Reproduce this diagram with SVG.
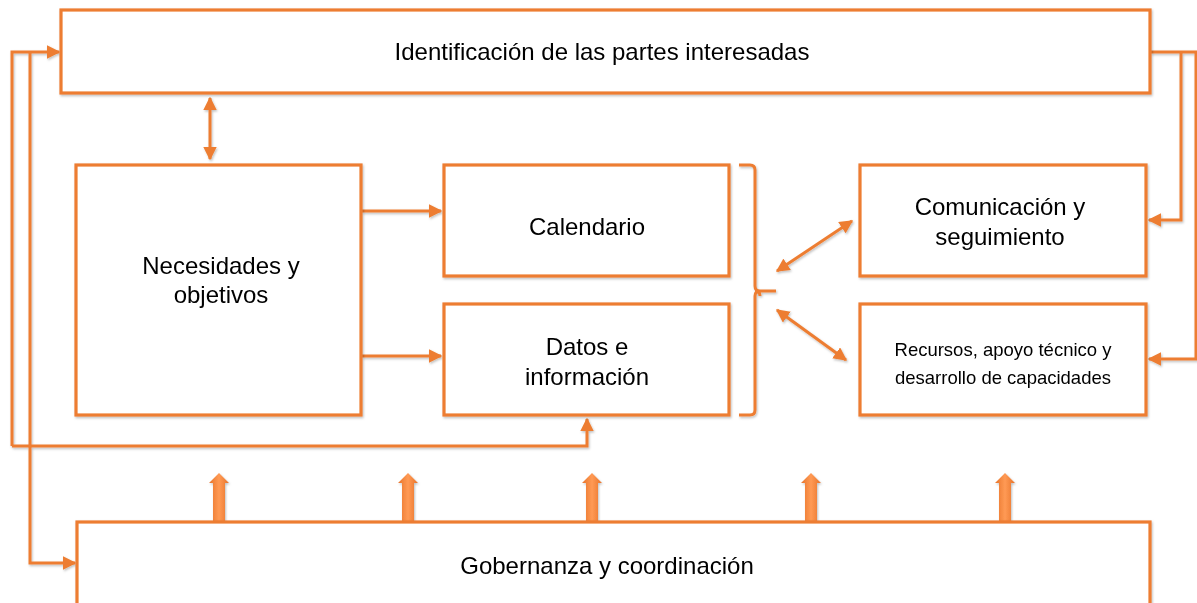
<svg xmlns="http://www.w3.org/2000/svg" width="1197" height="603" viewBox="0 0 1197 603">
<style>
.box{fill:#fff;stroke:#ED7D31;stroke-width:3.2}
.ln{fill:none;stroke:#ED7D31;stroke-width:3}
.t{font-family:"Liberation Sans",Arial,sans-serif;font-size:24px;fill:#000;text-anchor:middle}
.s{font-size:18.5px}
</style>
<defs>
<marker id="ah" viewBox="0 0 10 10" refX="9" refY="5" markerWidth="4.5" markerHeight="4.5" orient="auto-start-reverse" markerUnits="strokeWidth">
<path d="M0,0 L10,5 L0,10 z" fill="#ED7D31"/>
</marker>
<linearGradient id="fg" x1="0" x2="1" y1="0" y2="0">
<stop offset="0" stop-color="#E8742A"/>
<stop offset="0.5" stop-color="#FF9A55"/>
<stop offset="1" stop-color="#E8742A"/>
</linearGradient>
<filter id="sh" x="-20%" y="-20%" width="140%" height="140%">
<feDropShadow dx="1" dy="1.5" stdDeviation="1" flood-color="#000" flood-opacity="0.25"/>
</filter>
<path id="fat" d="M-6,50 L-6,10 L-10,10 L0,0 L10,10 L6,10 L6,50 z" fill="url(#fg)" filter="url(#sh)"/>
</defs>
<g id="connectors" filter="url(#sh)">
<path class="ln" d="M12,446 L12,52 L59,52" marker-end="url(#ah)"/>
<path class="ln" d="M30,52 L30,563 L75,563" marker-end="url(#ah)"/>
<path class="ln" d="M12,446 L587,446 L587,419" marker-end="url(#ah)"/>
<path class="ln" d="M1151,52 L1197,52"/>
<path class="ln" d="M1181,52 L1181,220 L1149,220" marker-end="url(#ah)"/>
<path class="ln" d="M1196,52 L1196,359 L1149,359" marker-end="url(#ah)"/>
<path class="ln" d="M210,98 L210,159" marker-start="url(#ah)" marker-end="url(#ah)"/>
<path class="ln" d="M362,211 L441,211" marker-end="url(#ah)"/>
<path class="ln" d="M362,356 L441,356" marker-end="url(#ah)"/>
<path class="ln" d="M777,271 L852,221" marker-start="url(#ah)" marker-end="url(#ah)"/>
<path class="ln" d="M777,310 L846,360" marker-start="url(#ah)" marker-end="url(#ah)"/>
<path class="ln" d="M739,165 L750,165 Q755,165 755,170 L755,286 Q755,291 760,291 L776,291 M755,291 Q760,291 760,296 M760,291 Q755,291 755,296 L755,410 Q755,415 750,415 L739,415"/>
</g>
<g id="fat-arrows">
<use href="#fat" x="219" y="473"/>
<use href="#fat" x="408" y="473"/>
<use href="#fat" x="592" y="473"/>
<use href="#fat" x="811" y="473"/>
<use href="#fat" x="1005" y="473"/>
</g>
<g id="n-identificacion" filter="url(#sh)">
<rect class="box" x="61" y="10" width="1089" height="83"/>
<text class="t" x="602" y="59.5">Identificación de las partes interesadas</text>
</g>
<g id="n-necesidades" filter="url(#sh)">
<rect class="box" x="76" y="165" width="285" height="250"/>
<text class="t" x="221" y="274">Necesidades y</text>
<text class="t" x="221" y="303">objetivos</text>
</g>
<g id="n-calendario" filter="url(#sh)">
<rect class="box" x="444" y="165" width="285" height="111"/>
<text class="t" x="587" y="234.5">Calendario</text>
</g>
<g id="n-datos" filter="url(#sh)">
<rect class="box" x="444" y="304" width="285" height="111"/>
<text class="t" x="587" y="355">Datos e</text>
<text class="t" x="587" y="385">información</text>
</g>
<g id="n-comunicacion" filter="url(#sh)">
<rect class="box" x="860" y="165" width="286" height="111"/>
<text class="t" x="1000" y="215">Comunicación y</text>
<text class="t" x="1000" y="245">seguimiento</text>
</g>
<g id="n-recursos" filter="url(#sh)">
<rect class="box" x="860" y="304" width="286" height="111"/>
<text class="t s" x="1003" y="355.5">Recursos, apoyo técnico y</text>
<text class="t s" x="1003" y="383.5">desarrollo de capacidades</text>
</g>
<g id="n-gobernanza" filter="url(#sh)">
<rect class="box" x="77" y="522" width="1073" height="100"/>
<text class="t" x="607" y="574">Gobernanza y coordinación</text>
</g>
</svg>
